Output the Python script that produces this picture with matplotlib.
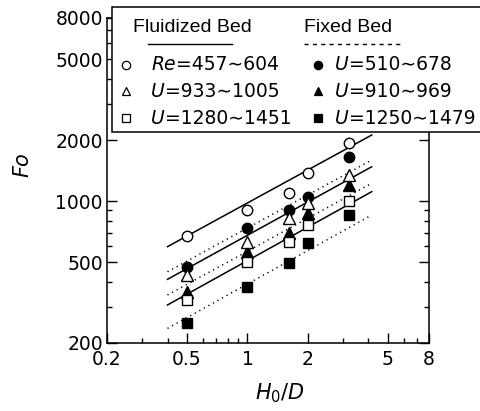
import matplotlib
matplotlib.use("Agg")
import matplotlib.pyplot as plt
import matplotlib.patches as patches
from matplotlib.lines import Line2D
from matplotlib.ticker import FixedLocator, LogLocator, NullFormatter, FixedFormatter

plt.rcParams['font.family'] = ['DejaVu Sans']
plt.rcParams['mathtext.fontset'] = 'custom'
plt.rcParams['mathtext.rm'] = 'DejaVu Sans'
plt.rcParams['mathtext.it'] = 'DejaVu Sans:italic'

# --- data ---
h_over_d = [0.5, 1.0, 1.6, 2.0, 3.2]
fo_fluid_re = [673, 904, 1094, 1381, 1928]
fo_fluid_u1 = [433, 631, 823, 977, 1346]
fo_fluid_u2 = [326, 503, 631, 763, 1002]
fo_fixed_re = [475, 735, 904, 1052, 1656]
fo_fixed_u1 = [358, 564, 694, 871, 1202]
fo_fixed_u2 = [252, 379, 494, 624, 855]

# correlation lines (end points)
fit_x = [0.4, 4.15]
fit_fluid = [[597, 2119], [412, 1478], [308, 1114]]
fit_fixed = [[449, 1596], [345, 1225], [236, 855]]

fluid_prefix = ["Re", "U", "U"]
fluid_ranges = ["=457∼604", "=933∼1005", "=1280∼1451"]
fixed_prefix = ["U", "U", "U"]
fixed_ranges = ["=510∼678", "=910∼969", "=1250∼1479"]

xticks = [0.2, 0.5, 1, 2, 5, 8]
xticklabels = ["0.2", "0.5", "1", "2", "5", "8"]
yticks = [200, 500, 1000, 2000, 5000, 8000]
yticklabels = ["200", "500", "1000", "2000", "5000", "8000"]

W, H = 480, 411
fig = plt.figure(figsize=(4.8, 4.11), dpi=100)
ax = fig.add_axes([107 / W, 1 - 343 / H, (429 - 107) / W, (343 - 18) / H])
ax.set_xscale('log')
ax.set_yscale('log')
ax.set_xlim(0.2, 8)
ax.set_ylim(200, 8000)

# lines
for yy in fit_fluid:
    ax.plot(fit_x, yy, color='black', lw=1.1, zorder=2)
for yy in fit_fixed:
    ax.plot(fit_x, yy, color='black', lw=1.1, ls=(0, (0.8, 2.6)), zorder=2)

mk = dict(color='black', ls='none', mew=1.0, zorder=3)
ax.plot(h_over_d, fo_fixed_re, marker='o', mfc='black', ms=7.5, **mk)
ax.plot(h_over_d, fo_fixed_u1, marker='^', mfc='black', ms=8, **mk)
ax.plot(h_over_d, fo_fixed_u2, marker='s', mfc='black', ms=7.5, **mk)
ax.plot(h_over_d, fo_fluid_re, marker='o', mfc='white', ms=7.5, **mk)
ax.plot(h_over_d, fo_fluid_u1, marker='^', mfc='white', ms=8, **mk)
ax.plot(h_over_d, fo_fluid_u2, marker='s', mfc='white', ms=7, **mk)

# ticks
ax.xaxis.set_major_locator(FixedLocator(xticks))
ax.xaxis.set_major_formatter(FixedFormatter(xticklabels))
ax.xaxis.set_minor_locator(LogLocator(base=10, subs=range(2, 10)))
ax.xaxis.set_minor_formatter(NullFormatter())
ax.yaxis.set_major_locator(FixedLocator(yticks))
ax.yaxis.set_major_formatter(FixedFormatter(yticklabels))
ax.yaxis.set_minor_locator(LogLocator(base=10, subs=range(2, 10)))
ax.yaxis.set_minor_formatter(NullFormatter())
ax.tick_params(which='both', direction='in', top=False, right=True, width=1.0)
ax.tick_params(which='major', length=7, labelsize=13.5)
ax.tick_params(axis='x', which='major', pad=5)
ax.tick_params(axis='y', which='major', pad=3)
ax.tick_params(which='minor', length=3.5)
for s in ax.spines.values():
    s.set_linewidth(1.1)

fig.text(280 / W, 1 - 393 / H, r"$\mathit{H}_\mathrm{0}/\mathit{D}$", ha='center', va='center', fontsize=15)
fig.text(22 / W, 1 - 165 / H, "Fo", rotation=90, ha='center', va='center', fontsize=15, style='italic')

# legend box drawn by hand (it runs past the axes and the figure edge)
box = patches.Rectangle((112 / W, 1 - 132 / H), (490 - 112) / W, (132 - 7) / H,
                        transform=fig.transFigure, facecolor='white', edgecolor='black',
                        lw=1.1, zorder=10, clip_on=False)
fig.add_artist(box)

def fy(y):
    return 1 - y / H

hdr = dict(fontsize=14, va='center', zorder=11, family='Liberation Sans')
fig.text(133 / W, fy(28), "Fluidized Bed", **hdr)
fig.text(304 / W, fy(28), "Fixed Bed", **hdr)
fig.add_artist(Line2D([148 / W, 232 / W], [fy(44), fy(44)], color='black', lw=1.0, zorder=11))
fig.add_artist(Line2D([304 / W, 402 / W], [fy(44), fy(44)], color='black', lw=1.0,
                      ls=(0, (3, 3)), zorder=11))

renderer = fig.canvas.get_renderer()

def label(x, y, prefix, rest):
    t = fig.text(x / W, fy(y), prefix, fontsize=13.5, style='italic', va='center', zorder=11)
    x1 = t.get_window_extent(renderer).x1
    fig.text((x1 + 0.5) / W, fy(y), rest, fontsize=13.5, va='center', zorder=11)

rows_y = [65, 91.5, 118]
marks = ['o', '^', 's']
for i, y in enumerate(rows_y):
    fig.add_artist(Line2D([126 / W], [fy(y)], marker=marks[i], ms=6, mfc='white',
                          mec='black', mew=0.9, ls='none', zorder=11))
    label(151, y, fluid_prefix[i], fluid_ranges[i])
    fig.add_artist(Line2D([318 / W], [fy(y)], marker=marks[i], ms=6, mfc='black',
                          mec='black', mew=0.9, ls='none', zorder=11))
    label(335, y, fixed_prefix[i], fixed_ranges[i])

fig.savefig("out.png", dpi=100)
